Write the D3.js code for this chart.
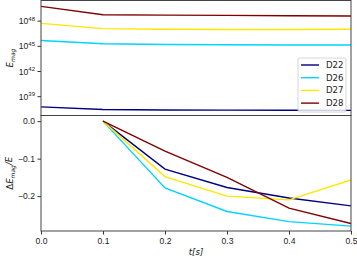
<!DOCTYPE html>
<html>
<head>
<meta charset="utf-8">
<script src="https://cdn.jsdelivr.net/npm/d3@7"></script>
<style>
  body { margin: 0; background: #fff; }
  svg { display: block; font-family: "DejaVu Sans", sans-serif; }
</style>
</head>
<body>
<svg id="chart" width="357" height="257"></svg>
<script>
// datos
var times = [0.0, 0.1, 0.2, 0.3, 0.4, 0.5];
var seriesNames = ["D22", "D26", "D27", "D28"];
var seriesColors = ["#00007f", "#00d4ff", "#ffe600", "#7f0000"];

// log10(E_mag) por serie
var emagD22 = [37.73, 37.42, 37.36, 37.34, 37.32, 37.31];
var emagD26 = [45.63, 45.24, 45.15, 45.12, 45.10, 45.10];
var emagD27 = [47.68, 47.05, 46.98, 46.95, 46.95, 46.98];
var emagD28 = [49.70, 48.70, 48.66, 48.63, 48.59, 48.56];

// dE_mag/E desde t = 0.1
var dTimes = [0.1, 0.2, 0.3, 0.4, 0.5];
var relD22 = [0.0, -0.128, -0.177, -0.205, -0.226];
var relD26 = [0.0, -0.178, -0.241, -0.268, -0.280];
var relD27 = [0.0, -0.148, -0.200, -0.210, -0.157];
var relD28 = [0.0, -0.080, -0.150, -0.232, -0.273];

var xTicks = [0.0, 0.1, 0.2, 0.3, 0.4, 0.5];
var topTickExps = [39, 42, 45, 48];
var bottomTicks = [0.0, -0.1, -0.2];

var emagData = [emagD22, emagD26, emagD27, emagD28];
var relData = [relD22, relD26, relD27, relD28];

var left = 41, right = 351;
var top1 = 0.5, bot1 = 115.5, top2 = 115.5, bot2 = 231;
var fs = "8.6px";

var svg = d3.select("#chart");

var x = d3.scaleLinear().domain([0, 0.5]).range([left, right]);
var yTop = d3.scaleLog().domain([Math.pow(10, 36.7), Math.pow(10, 50.4)]).range([bot1, top1]);
var yBot = d3.scaleLinear().domain([-0.293, 0.015]).range([bot2, top2]);

svg.append("defs").append("clipPath").attr("id", "clip1")
  .append("rect").attr("x", left).attr("y", top1).attr("width", right - left).attr("height", bot1 - top1);
svg.select("defs").append("clipPath").attr("id", "clip2")
  .append("rect").attr("x", left).attr("y", top2).attr("width", right - left).attr("height", bot2 - top2);

// panel superior
var lineTop = d3.line()
  .x(function(d, i) { return x(times[i]); })
  .y(function(d) { return yTop(Math.pow(10, d)); });

svg.append("g").attr("clip-path", "url(#clip1)")
  .selectAll("path").data(emagData).enter().append("path")
    .attr("d", lineTop)
    .attr("fill", "none")
    .attr("stroke", function(d, i) { return seriesColors[i]; })
    .attr("stroke-width", 1.4);

// panel inferior
var lineBot = d3.line()
  .x(function(d, i) { return x(dTimes[i]); })
  .y(function(d) { return yBot(d); });

svg.append("g").attr("clip-path", "url(#clip2)")
  .selectAll("path").data(relData).enter().append("path")
    .attr("d", lineBot)
    .attr("fill", "none")
    .attr("stroke", function(d, i) { return seriesColors[i]; })
    .attr("stroke-width", 1.4);

// ejes
var axTop = svg.append("g").attr("transform", "translate(" + left + ",0)")
  .call(d3.axisLeft(yTop).tickValues(topTickExps.map(function(e) { return Math.pow(10, e); }))
    .tickSize(3.5).tickFormat(""));
axTop.select(".domain").remove();
axTop.selectAll(".tick line").attr("stroke", "#333");
axTop.selectAll(".tick").each(function(d, i) {
  var t = d3.select(this).append("text")
    .attr("x", -6).attr("dy", "0.35em")
    .attr("text-anchor", "end").attr("fill", "#222").style("font-size", fs);
  t.append("tspan").text("10");
  t.append("tspan").attr("dy", "-0.55em").style("font-size", "6px").text(topTickExps[i]);
});

var axBot = svg.append("g").attr("transform", "translate(" + left + ",0)")
  .call(d3.axisLeft(yBot).tickValues(bottomTicks).tickSize(3.5)
    .tickFormat(function(d) { return d3.format(".1f")(d).replace("-", "\u2212"); }));
axBot.select(".domain").remove();
axBot.selectAll(".tick line").attr("stroke", "#333");
axBot.selectAll(".tick text").attr("fill", "#222").attr("x", -6).style("font-size", fs);

var axX = svg.append("g").attr("transform", "translate(0," + bot2 + ")")
  .call(d3.axisBottom(x).tickValues(xTicks).tickSize(3.5).tickFormat(d3.format(".1f")));
axX.select(".domain").remove();
axX.selectAll(".tick line").attr("stroke", "#333");
axX.selectAll(".tick text").attr("fill", "#222").attr("y", 6.5).style("font-size", fs);

// marcos
[[top1, bot1], [top2, bot2]].forEach(function(p) {
  svg.append("rect")
    .attr("x", left).attr("y", p[0])
    .attr("width", right - left).attr("height", p[1] - p[0])
    .attr("fill", "none").attr("stroke", "#444").attr("stroke-width", 1);
});

// etiquetas
var yl1 = svg.append("text")
  .attr("transform", "translate(13," + ((top1 + bot1) / 2) + ") rotate(-90)")
  .attr("text-anchor", "middle").attr("fill", "#222").style("font-size", fs);
yl1.append("tspan").style("font-style", "italic").text("E");
yl1.append("tspan").attr("dy", "0.3em").style("font-size", "6px").style("font-style", "italic").text("mag");

var yl2 = svg.append("text")
  .attr("transform", "translate(13," + ((top2 + bot2) / 2) + ") rotate(-90)")
  .attr("text-anchor", "middle").attr("fill", "#222").style("font-size", fs);
yl2.append("tspan").text("\u0394");
yl2.append("tspan").style("font-style", "italic").text("E");
yl2.append("tspan").attr("dy", "0.3em").style("font-size", "6px").style("font-style", "italic").text("mag");
yl2.append("tspan").attr("dy", "-0.3em").style("font-style", "italic").text("/E");

svg.append("text")
  .attr("x", (left + right) / 2).attr("y", 255)
  .attr("text-anchor", "middle").attr("fill", "#222")
  .style("font-size", fs).style("font-style", "italic").text("t[s]");

// leyenda
var lg = svg.append("g").attr("transform", "translate(298,58)");
lg.append("rect")
  .attr("width", 48).attr("height", 54).attr("rx", 2)
  .attr("fill", "#fff").attr("fill-opacity", 0.8)
  .attr("stroke", "#ccc").attr("stroke-width", 0.8);
seriesNames.forEach(function(name, i) {
  var yy = 7 + i * 12.7;
  lg.append("line")
    .attr("x1", 3).attr("x2", 21).attr("y1", yy).attr("y2", yy)
    .attr("stroke", seriesColors[i]).attr("stroke-width", 1.4);
  lg.append("text")
    .attr("x", 28).attr("y", yy).attr("dy", "0.35em")
    .attr("fill", "#222").style("font-size", fs).text(name);
});
</script>
</body>
</html>
